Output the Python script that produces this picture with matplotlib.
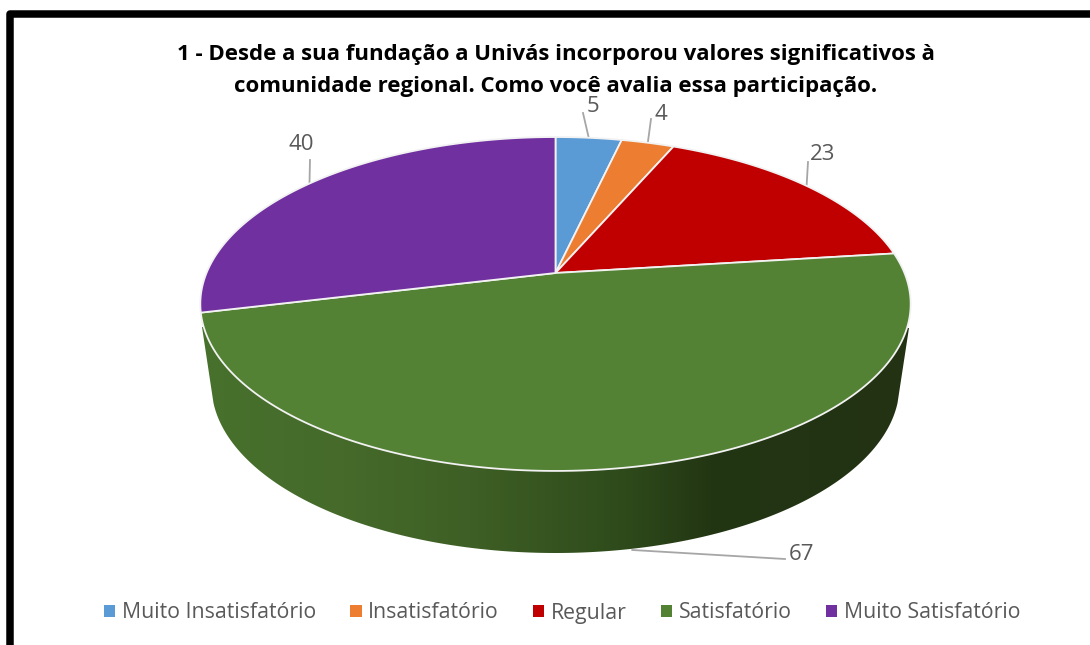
import matplotlib.pyplot as plt
import numpy as np
from matplotlib.colors import LinearSegmentedColormap
from matplotlib.patches import Patch, Polygon

plt.rcParams.update({"font.family": ["Open Sans", "DejaVu Sans"]})

categorias = [
    "Muito Insatisfatório",
    "Insatisfatório",
    "Regular",
    "Satisfatório",
    "Muito Satisfatório",
]
valores = [5, 4, 23, 67, 40]
cores = ["#5b9bd5", "#ed7d31", "#c00000", "#548235", "#7030a0"]
titulo = (
    "1 - Desde a sua fundação a Univás incorporou valores significativos à\n"
    "comunidade regional. Como você avalia essa participação."
)

# pie seen in perspective: centre of the disc does not fall on the ellipse centre
CX, CY = 555.5, 273
A, B, K = 349, 161.2, 0.1856
PROF = 83
CINZA = "#595959"


def projeta(ang):
    u, v = np.sin(ang), np.cos(ang)
    return CX + A * u / (1 + K * v), CY - B * v / (1 + K * v)


fig = plt.figure(figsize=(10.9, 6.45), dpi=100)
ax = fig.add_axes([0, 0, 1, 1])
ax.set_xlim(0, 1090)
ax.set_ylim(645, 0)
ax.axis("off")

# side of the pie, only the big slice shows
t = np.linspace(np.arcsin(18 / 168), np.pi - np.arcsin(18 / 168), 300)
lado = np.column_stack(
    [
        np.r_[202, CX - 344 * np.cos(t), 909],
        np.r_[327, 385 + 168 * np.sin(t), 328],
    ]
)
clip = Polygon(lado, closed=True, fc="none", ec="none", zorder=1)
ax.add_patch(clip)
grad = LinearSegmentedColormap.from_list(
    "lado",
    [
        (0.0, "#48712d"),
        (0.2, "#456a2a"),
        (0.38, "#3e5f25"),
        (0.6, "#2e4a1b"),
        (0.72, "#233613"),
        (1.0, "#223214"),
    ],
)
im = ax.imshow(
    np.linspace(0, 1, 256)[None, :],
    cmap=grad,
    extent=(202, 909, 560, 320),
    aspect="auto",
    zorder=1,
)
im.set_clip_path(clip)
ax.set_xlim(0, 1090)
ax.set_ylim(645, 0)

# top of the pie
bordas = np.r_[0, np.cumsum(valores)] / sum(valores) * 2 * np.pi
for i, cor in enumerate(cores):
    ang = np.linspace(bordas[i], bordas[i + 1], 200)
    x, y = projeta(ang)
    ax.fill(
        np.r_[CX, x],
        np.r_[CY, y],
        fc=cor,
        ec="#f2f2f2",
        lw=1.3,
        joinstyle="round",
        zorder=2,
    )

# data labels with leader lines, same order as valores
rotulos = [(593, 107), (661, 114), (823, 155), (801, 554), (301, 144)]
saidas = [(583, 113), (651, 119), (808, 162), (768, 558), (310, 160)]
meio = (bordas[:-1] + bordas[1:]) / 2
for i, valor in enumerate(valores):
    x0, y0 = projeta(meio[i])
    if valor == max(valores):
        y0 += PROF
        xs, ys = [x0, saidas[i][0], 785], [y0, saidas[i][1], 559]
    else:
        xs, ys = [x0, saidas[i][0]], [y0, saidas[i][1]]
    ax.plot(xs, ys, color="#a6a6a6", lw=1.3, zorder=0.5)
    ax.text(
        rotulos[i][0],
        rotulos[i][1],
        str(valor),
        color=CINZA,
        fontsize=16,
        ha="center",
        va="center",
        zorder=3,
    )

ax.text(
    556,
    70.5,
    titulo,
    color="black",
    fontsize=16,
    fontweight="bold",
    ha="center",
    va="center",
    linespacing=1.68,
    zorder=3,
)

alcas = [Patch(fc=c, ec="none") for c in cores]
ax.legend(
    alcas,
    categorias,
    loc="center",
    bbox_to_anchor=(562, 613),
    bbox_transform=ax.transData,
    ncol=5,
    frameon=False,
    fontsize=15.3,
    labelcolor=CINZA,
    handlelength=0.55,
    handleheight=0.55,
    handletextpad=0.3,
    columnspacing=1.6,
)

# black frame of the screenshot, cut at the right and at the bottom
ax.plot(
    [10.1, 10.1, 1095],
    [650, 13.6, 13.6],
    color="black",
    lw=5.4,
    solid_joinstyle="round",
    zorder=4,
)

fig.savefig("out.png", dpi=100)
